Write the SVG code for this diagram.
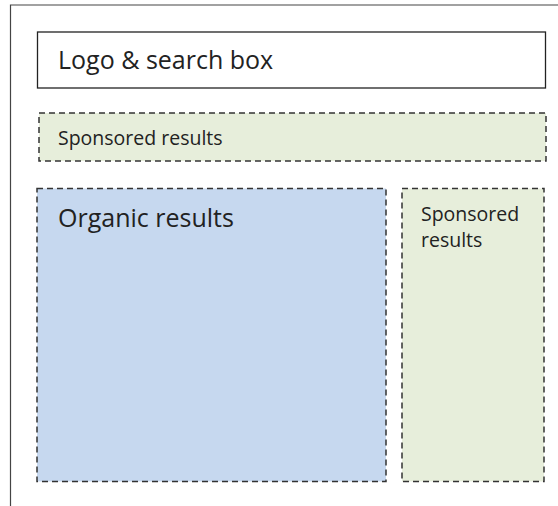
<svg xmlns="http://www.w3.org/2000/svg" width="558" height="506" viewBox="0 0 558 506">
<style>
text{font-family:"Open Sans","Liberation Sans",sans-serif;fill:#222}
.dash{stroke:#333;stroke-width:1.5;stroke-dasharray:6 4}
.green{fill:#e7eedb}
.blue{fill:#c6d8ef}
.sm{font-size:19.5px}
.lg{font-size:25px}
</style>
<rect width="558" height="506" fill="#fff"/>
<g id="frame"><path d="M10.5 506 V5 H558" fill="none" stroke="#444" stroke-width="1.2"/></g>
<g id="logo">
<rect x="37.5" y="32" width="508" height="56" fill="#fff" stroke="#222" stroke-width="1.3"/>
<text x="58" y="69" class="lg">Logo &amp; search box</text>
</g>
<g id="sponsored-top">
<rect x="39" y="113" width="507" height="48" class="green dash"/>
<text x="58" y="145" class="sm">Sponsored results</text>
</g>
<g id="organic">
<rect x="37" y="188.5" width="349" height="293" class="blue dash"/>
<text x="58" y="227" class="lg">Organic results</text>
</g>
<g id="sponsored-right">
<rect x="402" y="188.5" width="142" height="293" class="green dash"/>
<text x="421" y="221" class="sm">Sponsored</text>
<text x="421" y="247" class="sm">results</text>
</g>
<g id="connectors"/>
</svg>
